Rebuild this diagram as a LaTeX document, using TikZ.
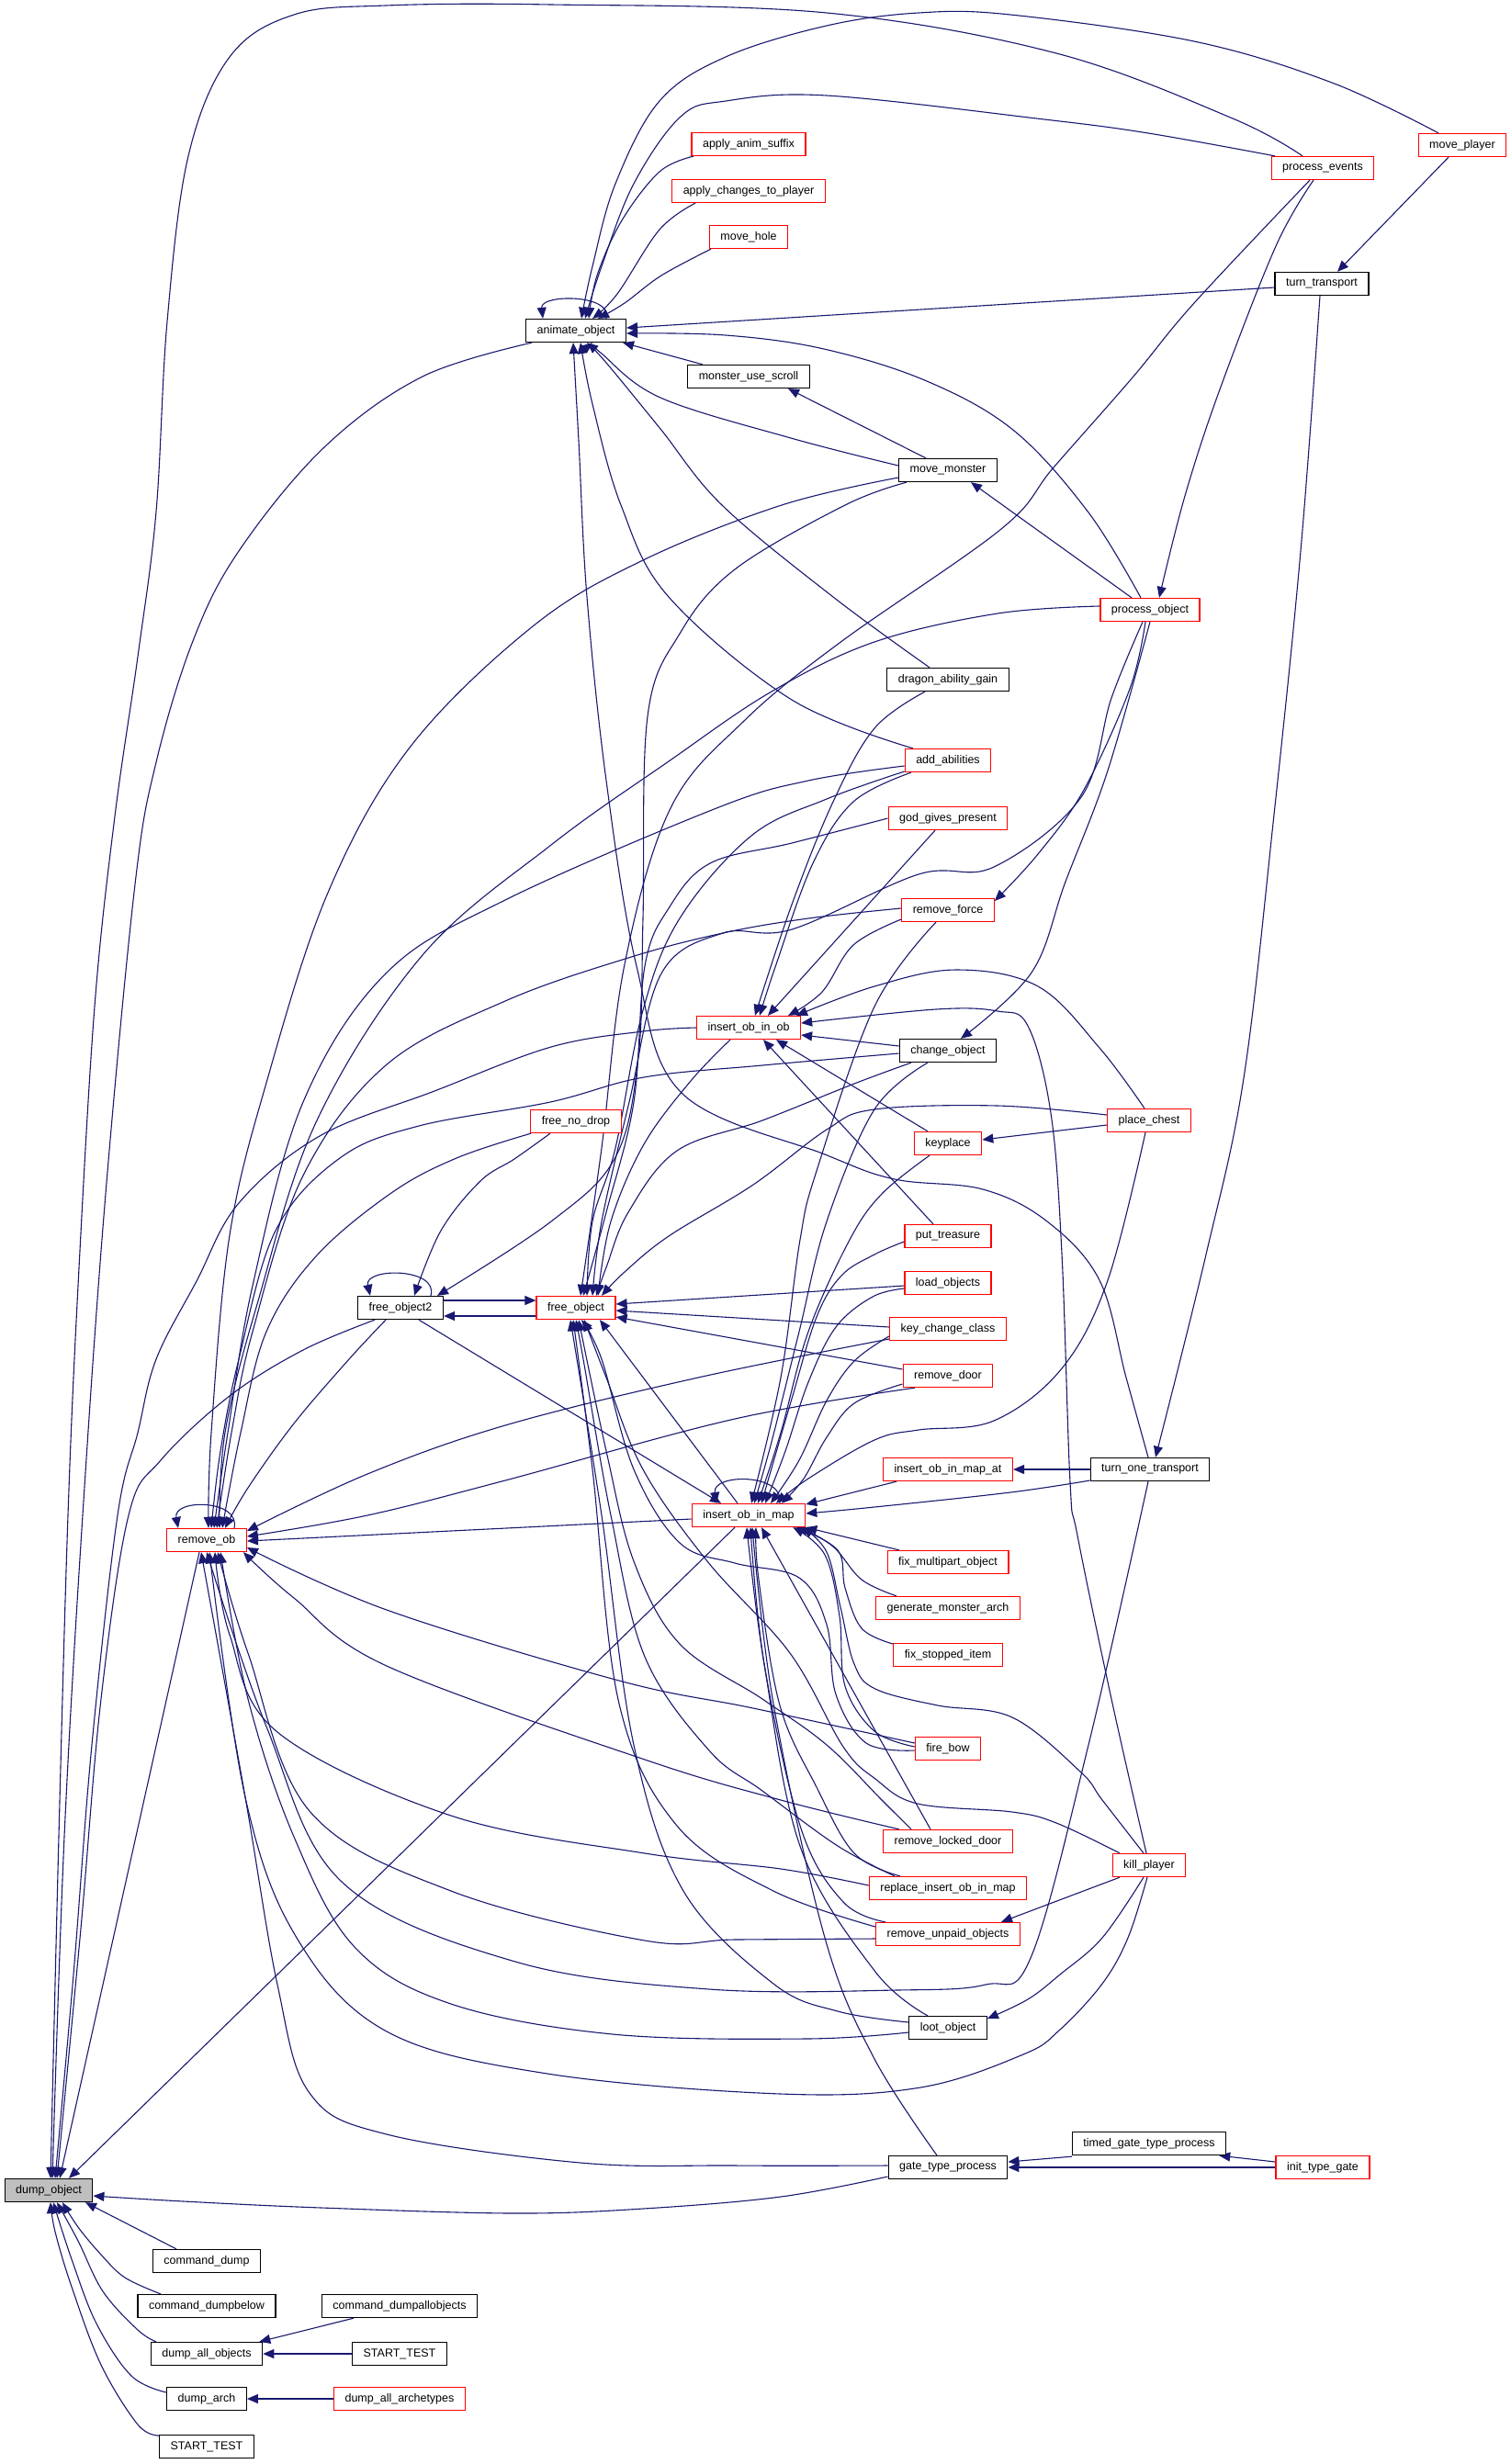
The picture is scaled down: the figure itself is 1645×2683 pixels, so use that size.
\documentclass[tikz,border=0pt]{standalone}
\usepackage{fontspec}
\setmainfont{Liberation Sans}
\usetikzlibrary{arrows.meta}
\definecolor{edgec}{HTML}{191970}
\definecolor{dumpfill}{HTML}{BFBFBF}
\pgfdeclarelayer{bg}
\pgfsetlayers{bg,main}
\tikzset{
  nbox/.style={rectangle, draw=black, fill=white, line width=1.3pt, minimum height=25pt, inner xsep=12pt, inner ysep=0pt, font=\fontsize{12.5}{15}\selectfont},
  nb/.style={nbox},
  nr/.style={nbox, draw=red},
  edg/.style={draw=edgec, line width=1.1pt, -{Triangle[length=12pt,width=10pt]}}
}
\newcommand\edg[2][]{\draw[edg,#1] plot[smooth,tension=0.6] coordinates {#2};}
\begin{document}
\begin{tikzpicture}[x=1pt,y=-1pt]
\useasboundingbox (0,0) rectangle (1645,2683);
% nodes
\node[nr] (mp) at (1592,158) {move\_player};
\node[nr] (pe) at (1440,183) {process\_events};
\node[nr] (aas) at (815,157) {apply\_anim\_suffix};
\node[nr] (acp) at (815,208) {apply\_changes\_to\_player};
\node[nr] (mh) at (815,258) {move\_hole};
\node[nb] (tt) at (1439,309) {turn\_transport};
\node[nb] (ao) at (627,360) {animate\_object};
\node[nb] (mus) at (815,410) {monster\_use\_scroll};
\node[nb] (mm) at (1032,512) {move\_monster};
\node[nr] (po) at (1252,664) {process\_object};
\node[nb] (dag) at (1032,740) {dragon\_ability\_gain};
\node[nr] (aa) at (1032,828) {add\_abilities};
\node[nr] (ggp) at (1032,891) {god\_gives\_present};
\node[nr] (rf) at (1032,991) {remove\_force};
\node[nr] (ioo) at (815,1119) {insert\_ob\_in\_ob};
\node[nb] (co) at (1032,1144) {change\_object};
\node[nr] (pc) at (1251,1220) {place\_chest};
\node[nr] (fnd) at (627,1221) {free\_no\_drop};
\node[nr] (kp) at (1032,1245) {keyplace};
\node[nr] (pt) at (1032,1346) {put\_treasure};
\node[nr] (lo) at (1032,1397) {load\_objects};
\node[nb] (fo2) at (436,1424) {free\_object2};
\node[nr] (fo) at (627,1424) {free\_object};
\node[nr] (kcc) at (1032,1447) {key\_change\_class};
\node[nr] (rd) at (1032,1498) {remove\_door};
\node[nr] (iomat) at (1032,1600) {insert\_ob\_in\_map\_at};
\node[nb] (tot) at (1252,1600) {turn\_one\_transport};
\node[nr] (iom) at (815,1650) {insert\_ob\_in\_map};
\node[nr] (rob) at (225,1677) {remove\_ob};
\node[nr] (fmo) at (1032,1701) {fix\_multipart\_object};
\node[nr] (gma) at (1032,1751) {generate\_monster\_arch};
\node[nr] (fsi) at (1032,1802) {fix\_stopped\_item};
\node[nr] (fb) at (1032,1904) {fire\_bow};
\node[nr] (rld) at (1032,2005) {remove\_locked\_door};
\node[nr] (kpl) at (1251,2031) {kill\_player};
\node[nr] (rio) at (1032,2056) {replace\_insert\_ob\_in\_map};
\node[nr] (ruo) at (1032,2106) {remove\_unpaid\_objects};
\node[nb] (lob) at (1032,2208) {loot\_object};
\node[nb] (tgtp) at (1251,2334) {timed\_gate\_type\_process};
\node[nb] (gtp) at (1032,2360) {gate\_type\_process};
\node[nr] (itg) at (1440,2360) {init\_type\_gate};
\node[nb,fill=dumpfill] (dobj) at (53,2385) {dump\_object};
\node[nb] (cd) at (225,2462) {command\_dump};
\node[nb] (cdb) at (225,2511) {command\_dumpbelow};
\node[nb] (cdao) at (435,2511) {command\_dumpallobjects};
\node[nb] (dao) at (225,2563) {dump\_all\_objects};
\node[nb] (st1) at (435,2563) {START\_TEST};
\node[nb] (da) at (225,2612) {dump\_arch};
\node[nr] (daa) at (435,2612) {dump\_all\_archetypes};
\node[nb] (st2) at (225,2664) {START\_TEST};

\begin{pgfonlayer}{bg}
\fill[white] (0,0) rectangle (1645,2683);
% into dump_object
\edg{([xshift=-22pt]pe.north) (1342,129) (1150,58) (900,14) (600,5) (420,6) (320,16) (250,62) (205,170) (182,350) (170,557) (150,715) (125,889) (103,1096) (85,1400) (74,1650) (64,2000) ([xshift=2pt]dobj.north)}
\edg{([xshift=-48pt]ao.south) (460,410) (353,487) (260,600) (210,698) (170,830) (147,963) (115,1300) (90,1650) (70,2000) ([xshift=4pt]dobj.north)}
\edg{(ioo.west) (700,1123) (600,1140) (473,1188) (348,1237) (260,1310) (214,1395) (170,1480) (150,1560) (128,1650) (100,1900) (80,2150) ([xshift=7pt]dobj.north)}
\edg{([xshift=-28pt]fo2.south) (330,1470) (250,1520) (175,1590) (140,1650) (110,1850) (88,2100) ([xshift=9pt]dobj.north)}
\draw[edg] ([xshift=-8pt]rob.south) -- ([xshift=12pt]dobj.north);
\draw[edg] ([xshift=-15pt]iom.south) -- ([xshift=22pt]dobj.north);
\edg{([yshift=-10pt]gtp.west) (850,2392) (700,2405) (560,2410) (350,2404) (200,2397) ([yshift=-6pt]dobj.east)}
\draw[edg] ([xshift=-33pt]cd.north) -- ([xshift=40pt]dobj.south);
\edg{([xshift=-50pt]cdb.north) (136,2480) (110,2455) (85,2425) ([xshift=15pt]dobj.south)}
\edg{([xshift=-55pt]dao.north) (150,2537) (112,2495) (85,2440) ([xshift=9pt]dobj.south)}
\edg{([yshift=7pt]da.west) (143,2587) (105,2530) (78,2460) ([xshift=5pt]dobj.south)}
\edg{([yshift=12pt]st2.west) (150,2640) (110,2575) (78,2490) (60,2430) ([xshift=2pt]dobj.south)}
% bottom small
\draw[edg] ([xshift=-50pt]cdao.south) -- ([xshift=-4pt]dao.north east);
\draw[edg] (st1.west) -- (dao.east);
\draw[edg] (daa.west) -- (da.east);
\draw[edg] (itg.west) -- (gtp.east);
\draw[edg] ([yshift=6pt]itg.west) -- ([xshift=-8pt]tgtp.south east);
\draw[edg] ([yshift=-1pt]tgtp.south west) -- ([yshift=6pt]gtp.east);
% animate_object
\draw[edg] ([xshift=33pt]ao.north) .. controls (668,320) and (588,320) .. ([xshift=-36pt]ao.north);
\edg{([xshift=-26pt]mp.north) (1450,90) (1300,45) (1100,16) (1000,14) (900,28) (790,62) (718,110) (670,200) (645,290) ([xshift=6pt]ao.north)}
\edg{([xshift=-52pt]pe.north) (1250,145) (1137,130) (900,104) (790,110) (741,127) (690,200) (655,290) ([xshift=10pt]ao.north)}
\edg{([xshift=-60pt]aas.south) (718,187) (677,240) (650,300) ([xshift=14pt]ao.north)}
\edg{([xshift=-58pt]acp.south) (718,250) (672,320) ([xshift=18pt]ao.north)}
\edg{([xshift=-41pt]mh.south) (720,300) (680,330) ([xshift=24pt]ao.north)}
\draw[edg] ([yshift=-4pt]tt.west) -- ([yshift=3pt]ao.east);
\edg{([xshift=-10pt]po.north) (1185,558) (1104,469) (1009,415) (897,380) (790,365) ([yshift=-3pt]ao.east)}
\draw[edg] ([xshift=-50pt]mus.north) -- ([xshift=-4pt]ao.south east);
\edg{([yshift=5pt]mm.west) (861,477) (719,433) (655,385) ([xshift=18pt]ao.south)}
\edg{([xshift=-20pt]dag.north) (907,650) (786,550) (719,467) (660,395) ([xshift=12pt]ao.south)}
\edg{([xshift=-38pt]aa.north) (862,762) (728,650) (676,550) (645,440) ([xshift=5pt]ao.south)}
\edg{([xshift=-2pt]tot.north) (1226,1500) (1197,1394) (1140,1330) (1070,1295) (974,1284) (898,1257) (742,1190) (693,1052) (660,850) (639,650) (630,480) ([xshift=-3pt]ao.south)}
% process_events etc
\edg{([xshift=-10pt]pe.south) (1389,268) (1328,424) (1290,540) ([xshift=10pt]po.north)}
\edg{([xshift=-14pt]pe.south) (1300,330) (1233,411) (1147,509) (1090,576) (914,700) (810,785) (730,880) (680,1050) (655,1250) ([xshift=5pt]fo.north)}
\draw[edg] ([xshift=-15pt]mp.south) -- ([xshift=17pt]tt.north);
\draw[edg] ([xshift=-20pt]po.north) -- ([xshift=25pt]mm.south);
\draw[edg] ([xshift=-24pt]mm.north) -- ([xshift=43pt]mus.south);
\edg{([xshift=-2pt]tt.south) (1416,600) (1387,887) (1354,1174) (1313,1366) ([xshift=6pt]tot.north)}
% process_object
\edg{([yshift=4pt]po.west) (1086,668) (952,699) (840,753) (728,829) (600,920) (460,1040) (345,1220) (280,1420) (245,1560) ([xshift=14pt]rob.north)}
\edg{([xshift=-8pt]po.south) (1210,760) (1177,868) (1082,944) (1000,952) (862,1012) (787,1016) (720,1060) (685,1200) (655,1330) ([xshift=18pt]fo.north)}
\edg{([xshift=-5pt]po.south) (1230,750) (1180,860) (1130,930) ([yshift=10pt]rf.east)}
\edg{(po.south) (1206,839) (1160,960) (1123,1059) ([xshift=14pt]co.north)}
% dragon, add_abilities, god, remove_force
\edg{([xshift=-25pt]dag.south) (952,793) (907,873) (862,985) ([xshift=7pt]ioo.north)}
\edg{([yshift=-6pt]aa.west) (880,850) (780,880) (550,980) (420,1060) (330,1200) (275,1400) (248,1560) ([xshift=8pt]rob.north)}
\edg{([yshift=-12pt]aa.west) (900,870) (818,910) (740,1000) (700,1100) (670,1250) (645,1330) ([xshift=12pt]fo.north)}
\edg{([xshift=-40pt]aa.south) (929,873) (885,940) (845,1050) ([xshift=12pt]ioo.north)}
\edg{(ggp.west) (862,918) (773,940) (728,989) (702,1052) (690,1200) (660,1320) ([xshift=8pt]fo.north)}
\draw[edg] ([xshift=-14pt]ggp.south) -- ([xshift=21pt]ioo.north);
\edg{([yshift=2pt]rf.west) (880,1000) (787,1016) (684,1043) (550,1090) (420,1160) (330,1280) (275,1450) (252,1560) ([xshift=11pt]rob.north)}
\edg{([yshift=-10pt]rf.west) (929,1029) (895,1080) ([xshift=43pt]ioo.north)}
\edg{([xshift=-13pt]rf.south) (952,1096) (889,1275) (871,1350) (850,1500) ([xshift=3pt]iom.north)}
% change_object
\draw[edg] ([yshift=5pt]co.west) -- ([yshift=-8pt]ioo.east);
\edg{([yshift=-3pt]co.west) (830,1160) (701,1173) (599,1200) (456,1226) (370,1261) (300,1340) (260,1480) (240,1580) ([xshift=5pt]rob.north)}
\edg{([xshift=-40pt]co.south) (930,1180) (830,1220) (737,1253) (684,1320) (660,1380) ([xshift=22pt]fo.north)}
\edg{([xshift=-22pt]co.south) (952,1208) (900,1330) (870,1450) (840,1570) ([xshift=6pt]iom.north)}
% place_chest, keyplace, put_treasure, load_objects, key_change_class, remove_door
\draw[edg] ([yshift=-5pt]pc.west) -- ([yshift=4pt]kp.east);
\edg{([xshift=-5pt]pc.north) (1197,1141) (1130,1074) (1041,1056) (952,1074) ([xshift=52pt]ioo.north)}
\edg{([yshift=6pt]pc.west) (1086,1204) (952,1208) (900,1230) (820,1290) (728,1346) (680,1385) ([xshift=28pt]fo.north)}
\edg{([xshift=-4pt]pc.south) (1206,1394) (1156,1490) (1082,1547) (1000,1557) (952,1568) (880,1610) ([xshift=30pt]iom.north)}
\draw[edg] ([xshift=-22pt]kp.north) -- ([xshift=30pt]ioo.south);
\edg{([xshift=-20pt]kp.south) (960,1300) (925,1350) (880,1450) (850,1560) ([xshift=10pt]iom.north)}
\draw[edg] ([xshift=-16pt]pt.north) -- ([xshift=16pt]ioo.south);
\edg{([yshift=-6pt]pt.west) (952,1366) (916,1389) (889,1434) (862,1523) ([xshift=14pt]iom.north)}
\draw[edg] ([yshift=-3pt]lo.west) -- ([yshift=4pt]fo.east);
\edg{([yshift=-6pt]lo.west) (950,1412) (910,1445) (880,1505) (855,1580) ([xshift=18pt]iom.north)}
\draw[edg] ([yshift=2pt]kcc.west) -- ([yshift=-3pt]fo.east);
\edg{([yshift=-8pt]kcc.west) (930,1482) (900,1525) (870,1590) ([xshift=24pt]iom.north)}
\edg{([yshift=-11pt]kcc.west) (760,1500) (550,1552) (400,1605) ([yshift=10pt]rob.east)}
\draw[edg] ([yshift=7pt]rd.west) -- ([yshift=-10pt]fo.east);
\edg{([yshift=-9pt]rd.west) (930,1528) (900,1565) (875,1610) ([xshift=36pt]iom.north)}
\edg{([xshift=-36pt]rd.south) (800,1545) (550,1612) (400,1650) ([yshift=4pt]rob.east)}
% insert_ob_in_map_at, turn_one_transport, insert_ob_in_map
\draw[edg] ([xshift=-56pt]iomat.south) -- ([yshift=12pt]iom.east);
\draw[edg] (tot.west) -- (iomat.east);
\edg{([yshift=-12pt]tot.west) (1100,1625) (952,1641) ([yshift=2pt]iom.east)}
\edg{([xshift=-2pt]tot.south) (1185,1900) (1122,2132) (1073,2161) (976,2167) (772,2166) (561,2136) (372,2049) (290,1880) (rob.south)}
\draw[edg] ([xshift=34pt]iom.north) .. controls (855,1604) and (775,1604) .. ([xshift=-35pt]iom.north);
\draw[edg] ([yshift=-4pt]iom.west) -- ([yshift=-1pt]rob.east);
\draw[edg] ([xshift=-12pt]iom.north) -- ([xshift=26pt]fo.south);
\draw[edg] ([xshift=20pt]fo2.south) -- ([xshift=-30pt]iom.north);
% free_object2, free_object, free_no_drop
\draw[edg] ([yshift=8pt]fo2.east) -- ([yshift=8pt]fo.west);
\draw[edg] ([yshift=-9pt]fo.west) -- ([yshift=-9pt]fo2.east);
\draw[edg] ([xshift=33pt]fo2.north) .. controls (478,1380) and (396,1380) .. ([xshift=-33pt]fo2.north);
\draw[edg] ([xshift=30pt]rob.north) .. controls (262,1632) and (188,1632) .. ([xshift=-31pt]rob.north);
\edg{([xshift=-28pt]fnd.south) (560,1262) (523,1286) (480,1340) ([xshift=15pt]fo2.north)}
\edg{([xshift=-49pt]fnd.south) (497,1261) (426,1299) (344,1368) (290,1450) (262,1560) ([xshift=17pt]rob.north)}
\edg{([xshift=-16pt]fo2.south) (380,1480) (320,1550) (270,1620) ([xshift=20pt]rob.north)}
\edg{([xshift=-20pt]ioo.south) (752,1177) (701,1246) (665,1330) ([xshift=24pt]fo.north)}
\edg{([xshift=-45pt]mm.south) (920,550) (800,620) (740,690) (705,780) (700,1000) (695,1150) (670,1260) (600,1330) ([xshift=40pt]fo2.north)}
\edg{([yshift=-8pt]mm.west) (851,550) (700,610) (580,682) (446,814) (357,972) (290,1179) (250,1345) (230,1560) ([xshift=2pt]rob.north)}
% fix_*, generate
\draw[edg] ([xshift=-53pt]fmo.north) -- (iom.south east);
\edg{([xshift=-56pt]gma.north) (938,1720) (907,1684) ([xshift=-6pt]iom.south east)}
\edg{([yshift=12pt]fsi.west) (938,1773) (920,1729) (912,1688) ([xshift=-10pt]iom.south east)}
% fire_bow
\edg{([yshift=2pt]fb.west) (952,1885) (920,1836) (914,1760) (898,1693) ([xshift=-14pt]iom.south east)}
\edg{([yshift=-2pt]fb.west) (943,1898) (910,1845) (900,1769) (870,1718) (800,1702) (740,1680) (690,1600) (655,1480) ([xshift=6pt]fo.south)}
\edg{([yshift=6pt]fb.west) (820,1860) (674,1830) (421,1753) ([yshift=-8pt]rob.east)}
% remove_locked_door
\edg{([xshift=-53pt]rld.north) (850,1960) (702,1916) (421,1814) (320,1740) ([xshift=-4pt]rob.south east)}
\edg{([xshift=-40pt]rld.north) (960,1960) (900,1900) (830,1850) (740,1790) (690,1700) (660,1580) ([xshift=3pt]fo.south)}
\draw[edg] ([xshift=-19pt]rld.north) -- ([xshift=14pt]iom.south);
% kill_player
\edg{([xshift=-6pt]kpl.north) (1200,1960) (1176,1929) (1102,1870) (1021,1857) (953,1839) (930,1812) (915,1750) (900,1690) ([xshift=-4pt]iom.south east)}
\edg{([xshift=-32pt]kpl.north) (1150,1985) (1102,1973) (999,1964) (953,1937) (918,1902) (860,1800) (770,1700) (700,1600) (660,1500) ([xshift=9pt]fo.south)}
\edg{([xshift=-3pt]kpl.north) (1210,1850) (1173,1672) (1165,1614) (1156,1365) (1144,1212) (1119,1117) (1086,1101) (1019,1099) ([yshift=5pt]ioo.east)}
\draw[edg] ([xshift=-32pt]kpl.south) -- ([xshift=58pt]ruo.north);
\edg{([xshift=-6pt]kpl.south) (1200,2110) (1154,2150) (1119,2177) ([yshift=10pt]lob.east)}
\edg{([xshift=-2pt]kpl.south) (1228,2110) (1200,2160) (1154,2210) (1114,2237) (1002,2273) (850,2280) (596,2258) (421,2212) (323,2110) (267,1957) ([xshift=3pt]rob.south)}
% replace_insert_ob_in_map
\edg{([yshift=3pt]rio.west) (850,2035) (702,2018) (491,1977) (302,1886) (250,1780) ([xshift=9pt]rob.south)}
\edg{([xshift=-58pt]rio.north) (912,2010) (830,1950) (772,1906) (702,1804) (665,1650) (635,1480) (fo.south)}
\edg{([xshift=-52pt]rio.north) (930,2018) (889,1946) (849,1857) (826,1720) ([xshift=8pt]iom.south)}
% remove_unpaid_objects
\edg{([yshift=-5pt]ruo.west) (800,2112) (702,2113) (491,2059) (337,1972) (270,1800) ([xshift=12pt]rob.south)}
\edg{([yshift=8pt]ruo.west) (842,2059) (737,1988) (674,1855) (645,1600) ([xshift=-3pt]fo.south)}
\edg{([xshift=-68pt]ruo.north) (918,2071) (872,1991) (832,1812) ([xshift=2pt]iom.south)}
% loot_object
\edg{([xshift=-22pt]lob.north) (953,2147) (872,2013) (832,1812) ([xshift=-2pt]iom.south)}
\edg{([yshift=-5pt]lob.west) (877,2220) (667,2215) (491,2182) (386,2120) (320,2000) (270,1850) ([xshift=15pt]rob.south)}
\edg{([yshift=6pt]lob.west) (912,2190) (842,2160) (744,2059) (690,1900) (655,1650) ([xshift=-6pt]fo.south)}
% gate_type_process
\edg{([xshift=-12pt]gtp.north) (951,2240) (898,2110) (842,1855) ([xshift=4pt]iom.south)}
\edg{([yshift=2pt]gtp.west) (800,2358) (632,2355) (421,2324) (337,2279) (302,2161) (267,1957) ([xshift=-6pt]rob.south)}
\end{pgfonlayer}
\end{tikzpicture}
\end{document}
